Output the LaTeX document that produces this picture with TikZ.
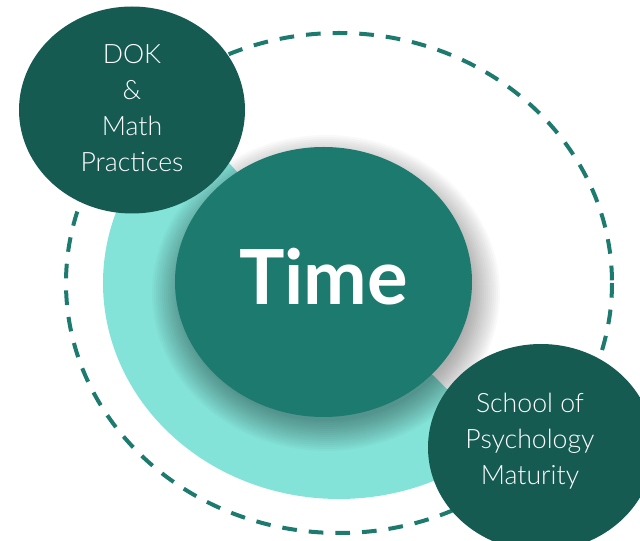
\documentclass[tikz,border=0pt]{standalone}
\usepackage{fontspec}
\setmainfont{Lato}
\newfontfamily\lightfont{Lato Light}
\usetikzlibrary{shapes.geometric}
\definecolor{darkteal}{RGB}{22,91,82}
\definecolor{midteal}{RGB}{28,122,110}
\definecolor{paleteal}{RGB}{132,227,216}
\tikzset{every picture/.style={line width=0.75pt}}
\tikzset{
  sidecirc/.style={shape=ellipse, fill=darkteal, minimum width=169.5pt, minimum height=155.25pt, inner sep=0pt},
  sidetext/.style={text=white, align=center, inner sep=0pt, font=\lightfont\fontsize{20}{27}\selectfont},
}

\begin{document}
\begin{tikzpicture}[x=0.75pt,y=0.75pt,yscale=-1,xscale=1]
\useasboundingbox (0,0) rectangle (640,541);

%Shape: Dashed Ellipse
\draw [color=midteal, line width=3pt, dash pattern=on 11pt off 9pt] (339,283) ellipse [x radius=273, y radius=250];
%Shape: Sector
\fill [paleteal] (339,283) -- ++(47:236 and 216) arc [start angle=47, end angle=230, x radius=236, y radius=216] -- cycle;
%Shadow of the middle ellipse
\foreach \k in {0,...,15}
  \fill [black, opacity=0.025] (326,293) ellipse [x radius=144+2*\k, y radius=128+2*\k];
%Shape: Ellipse
\node [shape=ellipse, fill=midteal, minimum width=222.75pt, minimum height=202.5pt, inner sep=0pt] (time) at (323.5,282) {};
%Shape: Ellipse
\node [sidecirc] (dok) at (132,110) {};
%Shape: Ellipse
\node [sidecirc] (school) at (541,447.5) {};

% Text Node
\node [text=white, inner sep=0pt, font=\bfseries\fontsize{57}{60}\selectfont] (timetext) at (323.5,277) {Time};
% Text Node
\node [sidetext] (doktext) at (132,108) {DOK\\\&\\Math\\Practices};
% Text Node
\node [sidetext] (schooltext) at (530,441) {School of\\Psychology\\Maturity};

\end{tikzpicture}
\end{document}
